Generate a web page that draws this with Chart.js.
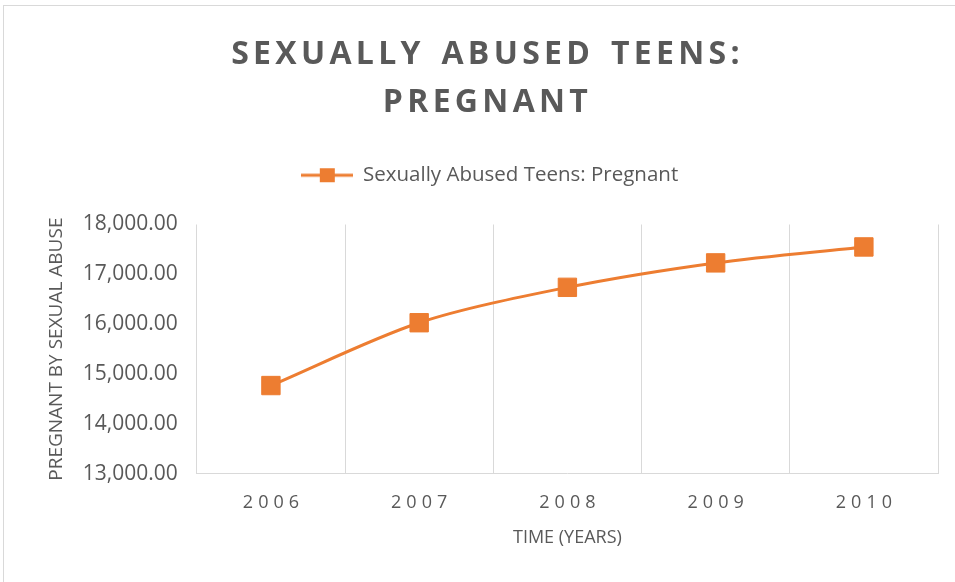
<!DOCTYPE html>
<html>
<head>
<meta charset="utf-8">
<script src="https://cdn.jsdelivr.net/npm/chart.js@4.4.1/dist/chart.umd.min.js"></script>
<style>
  html, body { margin: 0; padding: 0; background: #fff; overflow: hidden; }
  #wrap { position: relative; width: 955px; height: 582px; }
  #frame { position: absolute; left: 3px; top: 5px; width: 1000px; height: 1000px;
           border-left: 1px solid #d9d9d9; border-top: 1px solid #d9d9d9; }
  #title { position: absolute; left: 0; top: 28px; width: 975px; text-align: center;
           font: bold 32px/48px "Open Sans", sans-serif; letter-spacing: 4.3px; word-spacing: 4px; color: #595959; }
  #box { position: absolute; left: 0; top: 0; width: 955px; height: 582px; }
</style>
</head>
<body>
<div id="wrap">
  <div id="frame"></div>
  <div id="box"><canvas id="chart"></canvas></div>
  <div id="title">SEXUALLY ABUSED TEENS:<br>PREGNANT</div>
</div>
<script>
const years = ['2006', '2007', '2008', '2009', '2010'];
const pregnantCounts = [14770, 16030, 16740, 17230, 17550];
const yMin = 13000;
const yMax = 18000;
const yStep = 1000;

const orange = '#ED7D31';
const textGray = '#595959';
const gridGray = '#d9d9d9';

// legend icon: short line with a square on it, like the office marker
const legendIcon = document.createElement('canvas');
legendIcon.width = 52;
legendIcon.height = 16;
(() => {
  const c = legendIcon.getContext('2d');
  c.strokeStyle = orange;
  c.lineWidth = 3;
  c.beginPath();
  c.moveTo(0, 8);
  c.lineTo(52, 8);
  c.stroke();
  c.fillStyle = orange;
  c.fillRect(19, 1, 15, 14);
})();

// more room under the legend
const legendGap = {
  id: 'legendGap',
  beforeInit(chart) {
    const fit = chart.legend.fit;
    chart.legend.fit = function () {
      fit.bind(chart.legend)();
      this.height += 29;
    };
  }
};

// x labels are drawn here so they can get the wide letter spacing
const spacedTicks = {
  id: 'spacedTicks',
  afterDraw(chart) {
    const sx = chart.scales.x;
    const ctx = chart.ctx;
    ctx.save();
    ctx.font = '18px "Open Sans"';
    ctx.letterSpacing = '5px';
    ctx.fillStyle = textGray;
    ctx.textAlign = 'center';
    ctx.textBaseline = 'middle';
    years.forEach((label, i) => {
      ctx.fillText(label, sx.getPixelForTick(i) + 2.5, sx.top + 29);
    });
    ctx.restore();
  }
};

new Chart(document.getElementById('chart'), {
  type: 'line',
  data: {
    labels: years,
    datasets: [{
      label: 'Sexually Abused Teens: Pregnant',
      data: pregnantCounts,
      borderColor: orange,
      backgroundColor: orange,
      borderWidth: 3,
      tension: 0.3,
      pointStyle: 'rect',
      pointRadius: 13,
      pointHoverRadius: 13,
      pointBorderWidth: 1
    }]
  },
  options: {
    responsive: true,
    maintainAspectRatio: false,
    animation: false,
    layout: { padding: { top: 155, left: 41, right: 17, bottom: 29 } },
    plugins: {
      tooltip: { enabled: false },
      legend: {
        position: 'top',
        labels: {
          usePointStyle: true,
          pointStyle: legendIcon,
          pointStyleWidth: 52,
          color: textGray,
          font: { family: 'Open Sans', size: 20.5 },
          padding: 10
        }
      }
    },
    scales: {
      x: {
        offset: true,
        grid: { color: gridGray, offset: true, drawTicks: false },
        border: { color: gridGray },
        ticks: { color: 'transparent', font: { family: 'Open Sans', size: 18 }, padding: 16 },
        title: {
          display: true, text: 'TIME (YEARS)', color: textGray,
          font: { family: 'Open Sans', size: 18 }, padding: { top: 0 }
        }
      },
      y: {
        min: yMin,
        max: yMax,
        grid: { display: false },
        border: { display: false },
        ticks: {
          stepSize: yStep,
          color: textGray,
          font: { family: 'Open Sans', size: 21 },
          padding: 11,
          callback: (v) => v.toLocaleString('en-US', { minimumFractionDigits: 2, maximumFractionDigits: 2 })
        },
        title: {
          display: true, text: 'PREGNANT BY SEXUAL ABUSE', color: textGray,
          font: { family: 'Open Sans', size: 19 }, padding: 4
        }
      }
    }
  },
  plugins: [legendGap, spacedTicks]
});
</script>
</body>
</html>
